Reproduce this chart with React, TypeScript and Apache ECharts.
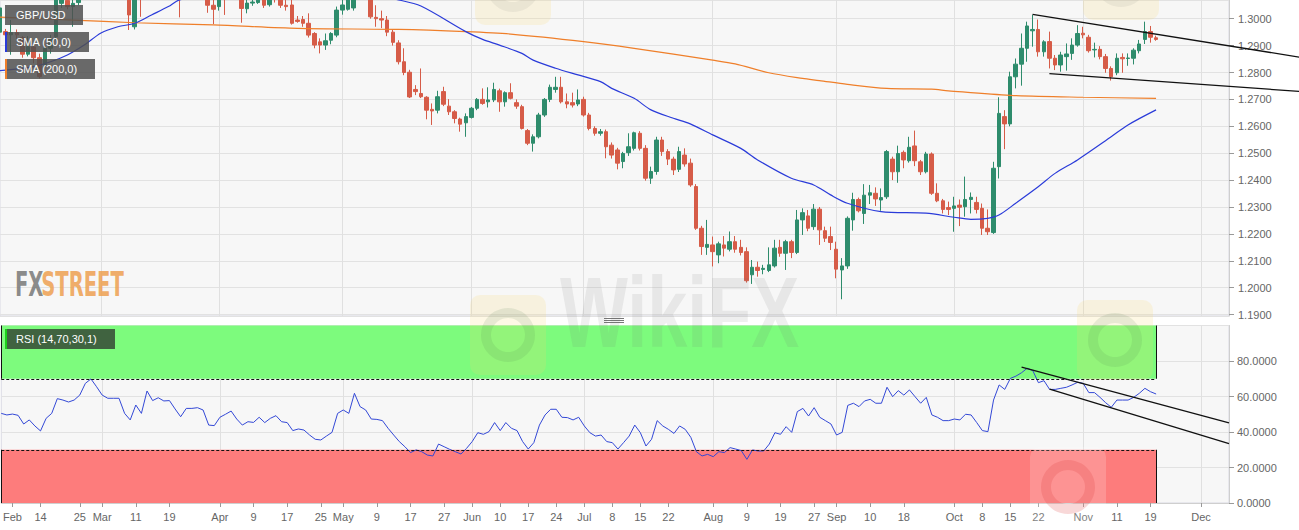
import React, { useEffect, useRef } from "react";
import * as echarts from "echarts";

// ---------- categories (trading days) ----------
const START_DATE = "2019-02-05";
const DAY_COUNT = 220;
function buildTradingDays(start: string, count: number): string[] {
  const out: string[] = [];
  const d = new Date(start + "T00:00:00Z");
  while (out.length < count) {
    const wd = d.getUTCDay();
    if (wd !== 0 && wd !== 6) out.push(d.toISOString().slice(0, 10));
    d.setUTCDate(d.getUTCDate() + 1);
  }
  return out;
}
const categories = buildTradingDays(START_DATE, DAY_COUNT);

// ---------- x tick labels ----------
const xLabelDates = ["2019-02-07","2019-02-14","2019-02-25","2019-03-01","2019-03-11","2019-03-19","2019-04-01","2019-04-09","2019-04-17","2019-04-25","2019-05-01","2019-05-09","2019-05-17","2019-05-27","2019-06-03","2019-06-10","2019-06-17","2019-06-24","2019-07-01","2019-07-08","2019-07-15","2019-07-22","2019-08-01","2019-08-09","2019-08-19","2019-08-27","2019-09-02","2019-09-10","2019-09-18","2019-10-01","2019-10-08","2019-10-15","2019-10-22","2019-11-01","2019-11-11","2019-11-19","2019-12-02"];
const xLabelTexts = ["Feb","14","25","Mar","11","19","Apr","9","17","25","May","9","17","27","Jun","10","17","24","Jul","8","15","22","Aug","9","19","27","Sep","10","18","Oct","8","15","22","Nov","11","19","Dec"];
const monthGridDates = ["2019-03-01","2019-04-01","2019-05-01","2019-06-03","2019-07-01","2019-08-01","2019-09-02","2019-10-01","2019-11-01","2019-12-02"];

// ---------- GBP/USD daily OHLC ----------
const opens = [
1.2950,1.2952,1.2940,1.2948,1.2930,1.2868,1.2895,1.2855,1.2828,1.2890,
1.2933,1.3057,1.3068,1.3045,1.3060,1.3090,1.3245,1.3315,1.3255,1.3195,
1.3150,1.3165,1.3150,1.3080,1.2970,1.3110,1.3080,1.3325,1.3240,1.3255,
1.3265,1.3250,1.3215,1.3080,1.3205,1.3210,1.3200,1.3195,1.3050,1.3045,
1.3150,1.3100,1.3170,1.3120,1.3037,1.3058,1.3060,1.3090,1.3052,1.3090,
1.3075,1.3050,1.3051,1.2995,1.2997,1.2983,1.2945,1.2914,1.2902,1.2920,
1.2939,1.3032,1.3035,1.3040,1.3180,1.3110,1.3090,1.3005,1.3000,1.2995,
1.2950,1.2910,1.2840,1.2801,1.2737,1.2722,1.2708,1.2663,1.2660,1.2729,
1.2675,1.2654,1.2627,1.2613,1.2633,1.2667,1.2700,1.2691,1.2698,1.2732,
1.2691,1.2725,1.2688,1.2673,1.2584,1.2537,1.2561,1.2642,1.2700,1.2737,
1.2745,1.2691,1.2688,1.2683,1.2700,1.2642,1.2592,1.2574,1.2580,1.2530,
1.2512,1.2469,1.2502,1.2518,1.2574,1.2518,1.2407,1.2432,1.2549,1.2506,
1.2478,1.2440,1.2493,1.2463,1.2376,1.2221,1.2150,1.2159,1.2122,1.2159,
1.2143,1.2171,1.2150,1.2134,1.2048,1.2076,1.2068,1.2064,1.2081,1.2150,
1.2128,1.2171,1.2131,1.2252,1.2267,1.2227,1.2292,1.2212,1.2190,1.2143,
1.2066,1.2081,1.2252,1.2328,1.2276,1.2344,1.2351,1.2326,1.2338,1.2478,
1.2431,1.2503,1.2472,1.2527,1.2468,1.2431,1.2497,1.2351,1.2323,1.2298,
1.2295,1.2307,1.2301,1.2328,1.2317,1.2295,1.2221,1.2205,1.2450,1.2636,
1.2609,1.2784,1.2831,1.2890,1.2955,1.2960,1.2877,1.2915,1.2853,1.2828,
1.2859,1.2871,1.2902,1.2946,1.2931,1.2884,1.2886,1.2859,1.2815,1.2799,
1.2856,1.2852,1.2853,1.2881,1.2923,1.2952,1.2929];
const closes = [
1.3040,1.2940,1.2948,1.2940,1.2868,1.2896,1.2855,1.2785,1.2890,1.2925,
1.3072,1.3080,1.3045,1.3057,1.3090,1.3245,1.3315,1.3255,1.3195,1.3150,
1.3165,1.3150,1.3080,1.3014,1.3110,1.3080,1.3325,1.3240,1.3255,1.3265,
1.3250,1.3215,1.3080,1.3205,1.3210,1.3200,1.3195,1.3050,1.3035,1.3150,
1.3100,1.3170,1.3120,1.3038,1.3058,1.3062,1.3090,1.3050,1.3090,1.3075,
1.3050,1.3045,1.2983,1.2990,1.2983,1.2939,1.2902,1.2902,1.2918,1.2945,
1.3032,1.3051,1.3075,1.3180,1.3110,1.3090,1.3007,1.3000,1.2995,1.2950,
1.2912,1.2840,1.2800,1.2709,1.2729,1.2710,1.2660,1.2657,1.2710,1.2682,
1.2654,1.2629,1.2608,1.2636,1.2667,1.2700,1.2685,1.2698,1.2737,1.2691,
1.2725,1.2704,1.2675,1.2592,1.2537,1.2561,1.2642,1.2700,1.2745,1.2745,
1.2691,1.2683,1.2679,1.2698,1.2642,1.2592,1.2574,1.2580,1.2524,1.2493,
1.2463,1.2499,1.2524,1.2576,1.2518,1.2407,1.2432,1.2549,1.2506,1.2478,
1.2438,1.2506,1.2460,1.2382,1.2221,1.2153,1.2161,1.2134,1.2163,1.2147,
1.2171,1.2143,1.2131,1.2026,1.2076,1.2064,1.2072,1.2085,1.2147,1.2128,
1.2171,1.2131,1.2252,1.2279,1.2221,1.2292,1.2215,1.2184,1.2168,1.2069,
1.2081,1.2258,1.2328,1.2286,1.2344,1.2353,1.2330,1.2335,1.2506,1.2431,
1.2499,1.2475,1.2522,1.2472,1.2431,1.2497,1.2351,1.2323,1.2291,1.2291,
1.2304,1.2299,1.2328,1.2336,1.2291,1.2221,1.2208,1.2444,1.2648,1.2609,
1.2784,1.2831,1.2890,1.2973,1.2960,1.2877,1.2914,1.2853,1.2828,1.2865,
1.2869,1.2902,1.2945,1.2940,1.2881,1.2886,1.2859,1.2815,1.2784,1.2853,
1.2851,1.2854,1.2883,1.2906,1.2952,1.2931,1.2923];
const lows = [
1.2935,1.2928,1.2866,1.2925,1.2855,1.2860,1.2834,1.2778,1.2820,1.2870,
1.2920,1.3040,1.3035,1.2970,1.3050,1.3080,1.3240,1.3240,1.3160,1.3130,
1.3095,1.3120,1.3070,1.2958,1.2960,1.3007,1.3075,1.3200,1.3180,1.3240,
1.3210,1.3190,1.3005,1.3070,1.3160,1.3170,1.3110,1.3022,1.2980,1.3030,
1.3014,1.3090,1.3080,1.2985,1.3020,1.3048,1.3055,1.3040,1.3045,1.3060,
1.3040,1.3030,1.2978,1.2985,1.2970,1.2930,1.2890,1.2871,1.2884,1.2905,
1.2931,1.3015,1.3030,1.3030,1.3090,1.3070,1.3000,1.2970,1.2965,1.2935,
1.2900,1.2830,1.2790,1.2705,1.2716,1.2705,1.2626,1.2605,1.2648,1.2675,
1.2642,1.2611,1.2580,1.2561,1.2629,1.2660,1.2680,1.2670,1.2690,1.2654,
1.2673,1.2700,1.2665,1.2588,1.2530,1.2506,1.2555,1.2635,1.2690,1.2725,
1.2685,1.2667,1.2670,1.2675,1.2636,1.2585,1.2565,1.2565,1.2481,1.2480,
1.2440,1.2444,1.2490,1.2510,1.2510,1.2398,1.2386,1.2420,1.2490,1.2456,
1.2419,1.2430,1.2450,1.2375,1.2215,1.2122,1.2122,1.2079,1.2091,1.2116,
1.2135,1.2130,1.2120,1.2019,1.2014,1.2041,1.2050,1.2058,1.2075,1.2115,
1.2066,1.2110,1.2125,1.2196,1.2210,1.2215,1.2159,1.2170,1.2140,1.2035,
1.1957,1.2070,1.2212,1.2280,1.2237,1.2311,1.2304,1.2286,1.2330,1.2400,
1.2390,1.2444,1.2465,1.2452,1.2419,1.2425,1.2345,1.2318,1.2276,1.2270,
1.2208,1.2229,1.2264,1.2276,1.2276,1.2196,1.2196,1.2200,1.2406,1.2515,
1.2600,1.2741,1.2751,1.2840,1.2896,1.2859,1.2859,1.2815,1.2809,1.2803,
1.2807,1.2847,1.2896,1.2927,1.2874,1.2856,1.2849,1.2799,1.2770,1.2790,
1.2799,1.2825,1.2830,1.2871,1.2906,1.2911,1.2918];
const highs = [
1.3060,1.2962,1.2995,1.2960,1.2935,1.2935,1.2900,1.2870,1.2905,1.2940,
1.3090,1.3100,1.3080,1.3070,1.3110,1.3250,1.3350,1.3320,1.3275,1.3220,
1.3200,1.3180,1.3165,1.3100,1.3120,1.3290,1.3380,1.3330,1.3290,1.3300,
1.3305,1.3290,1.3230,1.3210,1.3240,1.3270,1.3280,1.3200,1.3190,1.3170,
1.3170,1.3210,1.3180,1.3130,1.3078,1.3090,1.3100,1.3100,1.3100,1.3110,
1.3090,1.3090,1.3070,1.3010,1.3010,1.3020,1.2950,1.2927,1.2945,1.2950,
1.3045,1.3070,1.3090,1.3190,1.3190,1.3160,1.3100,1.3050,1.3030,1.3010,
1.2960,1.2920,1.2890,1.2810,1.2753,1.2815,1.2712,1.2685,1.2732,1.2747,
1.2701,1.2660,1.2632,1.2648,1.2672,1.2705,1.2741,1.2745,1.2762,1.2740,
1.2730,1.2760,1.2700,1.2680,1.2590,1.2570,1.2650,1.2705,1.2755,1.2784,
1.2784,1.2722,1.2725,1.2737,1.2710,1.2650,1.2600,1.2590,1.2588,1.2540,
1.2520,1.2505,1.2574,1.2580,1.2582,1.2530,1.2450,1.2561,1.2561,1.2515,
1.2487,1.2524,1.2518,1.2480,1.2385,1.2230,1.2252,1.2190,1.2171,1.2192,
1.2209,1.2192,1.2178,1.2150,1.2103,1.2097,1.2085,1.2150,1.2178,1.2178,
1.2178,1.2178,1.2289,1.2295,1.2289,1.2311,1.2300,1.2227,1.2227,1.2171,
1.2110,1.2265,1.2353,1.2335,1.2385,1.2382,1.2373,1.2369,1.2512,1.2487,
1.2528,1.2510,1.2561,1.2584,1.2475,1.2505,1.2503,1.2388,1.2330,1.2320,
1.2338,1.2328,1.2413,1.2354,1.2338,1.2313,1.2291,1.2468,1.2708,1.2660,
1.2803,1.2852,1.2945,1.2989,1.3014,1.2997,1.2920,1.2952,1.2865,1.2877,
1.2908,1.2927,1.2976,1.2970,1.2940,1.2911,1.2898,1.2869,1.2823,1.2871,
1.2871,1.2871,1.2890,1.2921,1.2989,1.2973,1.2937];

// ---------- moving averages (sampled along the drawn curves) ----------
const sma50Idx = [0,6,9,12,15,18,21,24,27,30,32,40,50,60,66,71,75,83,86,89,93,95,99,103,107,109,113,116,120,123,127,132,135,141,145,148,151,157,165,170,173,176,178,181,185,188,192,198,201,206];
const sma50Val = [1.2807,1.2822,1.2840,1.2865,1.2902,1.2947,1.2970,1.2983,1.3014,1.3045,1.3070,1.3095,1.3115,1.3110,1.3090,1.3070,1.3047,1.2952,1.2923,1.2902,1.2871,1.2846,1.2816,1.2791,1.2766,1.2741,1.2704,1.2661,1.2630,1.2609,1.2568,1.2518,1.2475,1.2407,1.2382,1.2345,1.2314,1.2283,1.2277,1.2262,1.2254,1.2258,1.2270,1.2314,1.2375,1.2425,1.2475,1.2561,1.2605,1.2661];
const sma200Idx = [0,13,24,38,53,71,83,91,104,113,127,131,137,143,146,151,158,166,169,180,193,206];
const sma200Val = [1.3006,1.2995,1.2985,1.2977,1.2964,1.2960,1.2952,1.2943,1.2915,1.2890,1.2846,1.2832,1.2799,1.2778,1.2770,1.2756,1.2741,1.2738,1.2732,1.2715,1.2708,1.2704];

// ---------- RSI (14) ----------
const rsiValues = [
50.5,49.6,50.1,49.4,44.5,46.8,43.4,40.6,47.7,50.5,
58.8,58.0,56.9,58.0,60.8,67.4,69.9,65.5,60.8,59.0,
59.0,59.0,50.5,46.8,55.2,50.5,63.1,57.7,59.3,57.5,
57.7,53.0,48.6,53.3,53.3,53.7,52.4,43.9,43.6,48.3,
50.0,51.8,47.3,43.9,45.8,45.4,48.3,45.3,47.7,49.2,
45.8,45.3,40.8,41.7,41.1,38.3,35.9,35.5,37.7,39.8,
50.5,52.4,50.5,61.8,54.3,52.4,47.3,47.1,46.4,42.1,
38.3,34.6,31.7,28.4,29.9,28.9,27.0,26.5,33.2,31.7,
30.2,28.9,27.6,30.8,34.6,39.6,38.7,40.2,45.3,40.8,
45.3,42.1,40.8,34.6,30.4,34.0,43.9,49.6,52.8,52.8,
48.3,48.1,46.8,48.3,43.4,39.6,37.7,38.3,34.6,34.0,
30.4,34.0,37.7,43.9,39.6,32.1,35.9,46.4,43.4,41.5,
39.2,43.4,41.5,37.0,28.9,26.5,27.4,26.1,28.9,28.4,
31.2,30.4,29.5,24.6,29.9,29.3,29.3,33.2,39.6,38.7,
43.0,39.8,51.5,53.3,49.0,53.7,48.3,46.4,44.5,38.3,
39.8,55.0,56.2,54.3,57.5,58.4,56.2,56.2,65.2,59.9,
63.3,60.8,63.7,59.9,56.2,59.5,49.6,48.3,46.4,46.4,
47.3,46.8,50.0,49.6,45.3,40.8,40.2,58.0,66.5,64.0,
70.2,71.5,73.4,75.9,74.6,67.8,68.9,64.0,64.0,64.6,
65.2,66.5,68.0,67.4,62.2,62.2,59.5,56.5,53.9,58.0,
58.0,58.0,59.5,61.8,64.6,62.7,61.4];
const RSI_OVERBOUGHT = 70;
const RSI_OVERSOLD = 30;
const RSI_ZONE_END = 206;

// ---------- hand-drawn trend lines (index, value) ----------
const priceUpperIdx = [184, 232];
const priceUpperVal = [1.30164, 1.28556];
const priceLowerIdx = [187, 232];
const priceLowerVal = [1.27959, 1.27291];
const rsiUpperIdx = [182, 219];
const rsiUpperVal = [76.5, 45.1];
const rsiLowerIdx = [187, 219];
const rsiLowerVal = [64.1, 33.5];

const PRICE_MIN = 1.18948;
const PRICE_MAX = 1.306952;

const UP = "#2e8c6c";
const DOWN = "#d65c48";
const FONT = 'Arial, "Liberation Sans", sans-serif';

export default function App() {
  const ref = useRef<HTMLDivElement>(null);
  useEffect(() => {
    document.body.style.margin = "0";
    const el = ref.current!;
    const chart = echarts.init(el, undefined, { renderer: "svg" });

    const labelMap = new Map<string, string>();
    xLabelDates.forEach((d, k) => labelMap.set(d, xLabelTexts[k]));
    const monthSet = new Set(monthGridDates);

    const priceFmt = (v: number) =>
      Math.abs(v * 100 - Math.round(v * 100)) < 1e-6 ? v.toFixed(4) : "";

    const candleData = opens.map((o, i) => [o, closes[i], lows[i], highs[i]]);

    const option: any = {
      animation: false,
      backgroundColor: "#ffffff",
      textStyle: { fontFamily: FONT },
      grid: [
        { left: 0, top: 0, width: 1229, height: 316, show: true, backgroundColor: "#f7f7f7", borderColor: "#d9d9e3", borderWidth: 1, containLabel: false },
        { left: 0, top: 325.5, width: 1229, height: 177.5, show: true, backgroundColor: "#f7f7f7", borderColor: "#d9d9e3", borderWidth: 1, containLabel: false },
      ],
      xAxis: [
        {
          type: "category", gridIndex: 0, data: categories, boundaryGap: false,
          axisLine: { show: false }, axisTick: { show: false }, axisLabel: { show: false },
          splitLine: { show: true, interval: (_i: number, v: string) => monthSet.has(v), lineStyle: { color: "#e0e0e0", width: 1 } },
        },
        {
          type: "category", gridIndex: 1, data: categories, boundaryGap: false,
          axisLine: { show: true, lineStyle: { color: "#cfcfcf" } },
          axisTick: { show: true, length: 4, interval: (_i: number, v: string) => labelMap.has(v), lineStyle: { color: "#999" } },
          axisLabel: {
            show: true, interval: (_i: number, v: string) => labelMap.has(v),
            formatter: (v: string) => labelMap.get(v) ?? "",
            color: "#666", fontSize: 11, margin: 8, fontFamily: FONT,
          },
          splitLine: { show: true, interval: (_i: number, v: string) => monthSet.has(v), lineStyle: { color: "#e0e0e0", width: 1 } },
        },
      ],
      yAxis: [
        {
          type: "value", gridIndex: 0, position: "right", min: PRICE_MIN, max: PRICE_MAX,
          splitNumber: 12, minInterval: 0.01, maxInterval: 0.01,
          axisLine: { show: true, lineStyle: { color: "#cfcfcf" } },
          axisTick: { show: true, length: 5, lineStyle: { color: "#999" } },
          axisLabel: { color: "#666", fontSize: 11, margin: 9, formatter: priceFmt, showMinLabel: false, showMaxLabel: false, fontFamily: FONT },
          splitLine: { show: true, lineStyle: { color: "#e2e2e2", width: 1 } },
        },
        {
          type: "value", gridIndex: 1, position: "right", min: 0, max: 100, interval: 20,
          axisLine: { show: true, lineStyle: { color: "#cfcfcf" } },
          axisTick: { show: true, length: 5, lineStyle: { color: "#999" } },
          axisLabel: { color: "#666", fontSize: 11, margin: 8, formatter: (v: number) => v.toFixed(4), showMaxLabel: false, fontFamily: FONT },
          splitLine: { show: true, lineStyle: { color: "#e2e2e2", width: 1 } },
        },
      ],
      series: [
        {
          name: "GBP/USD", type: "candlestick", xAxisIndex: 0, yAxisIndex: 0,
          data: candleData, barWidth: 4, clip: true,
          itemStyle: { color: UP, color0: DOWN, borderColor: UP, borderColor0: DOWN, borderWidth: 1 },
        },
        {
          name: "SMA (200,0)", type: "line", xAxisIndex: 0, yAxisIndex: 0,
          data: sma200Idx.map((x, k) => [x, sma200Val[k]]), smooth: 0.3,
          symbol: "none", clip: true, lineStyle: { color: "#ef7f2a", width: 1.2 }, z: 3,
        },
        {
          name: "SMA (50,0)", type: "line", xAxisIndex: 0, yAxisIndex: 0,
          data: sma50Idx.map((x, k) => [x, sma50Val[k]]), smooth: 0.3,
          symbol: "none", clip: true, lineStyle: { color: "#2a3bd9", width: 1.2 }, z: 3,
        },
        {
          name: "RSI", type: "line", xAxisIndex: 1, yAxisIndex: 1,
          data: rsiValues, symbol: "none", lineStyle: { color: "#3348d6", width: 1 }, z: 4,
          markArea: {
            silent: true,
            data: [
              [{ xAxis: 0, yAxis: RSI_OVERBOUGHT, itemStyle: { color: "#7dfb7d" } }, { xAxis: RSI_ZONE_END, yAxis: 100 }],
              [{ xAxis: 0, yAxis: 0, itemStyle: { color: "#fd7c7c" } }, { xAxis: RSI_ZONE_END, yAxis: RSI_OVERSOLD }],
            ],
          },
          markLine: {
            silent: true, symbol: ["none", "none"], label: { show: false },
            data: [
              [{ coord: [0, RSI_OVERBOUGHT], lineStyle: { color: "#111", width: 1, type: [3, 2] } }, { coord: [RSI_ZONE_END, RSI_OVERBOUGHT] }],
              [{ coord: [0, RSI_OVERSOLD], lineStyle: { color: "#111", width: 1, type: [3, 2] } }, { coord: [RSI_ZONE_END, RSI_OVERSOLD] }],
              [{ coord: [RSI_ZONE_END, RSI_OVERBOUGHT], lineStyle: { color: "#111", width: 1, type: "solid" } }, { coord: [RSI_ZONE_END, 100] }],
              [{ coord: [RSI_ZONE_END, 0], lineStyle: { color: "#111", width: 1, type: "solid" } }, { coord: [RSI_ZONE_END, RSI_OVERSOLD] }],
              [{ coord: [0, RSI_OVERBOUGHT], lineStyle: { color: "#111", width: 1, type: "solid" } }, { coord: [0, 100] }],
              [{ coord: [0, 0], lineStyle: { color: "#111", width: 1, type: "solid" } }, { coord: [0, RSI_OVERSOLD] }],
              [{ coord: [rsiUpperIdx[0], rsiUpperVal[0]], lineStyle: { color: "#111", width: 1.3, type: "solid" } }, { coord: [rsiUpperIdx[1], rsiUpperVal[1]] }],
              [{ coord: [rsiLowerIdx[0], rsiLowerVal[0]], lineStyle: { color: "#111", width: 1.3, type: "solid" } }, { coord: [rsiLowerIdx[1], rsiLowerVal[1]] }],
            ],
          },
        },
      ],
    };
    chart.setOption(option);

    const px = (i: number, v: number) =>
      chart.convertToPixel({ xAxisIndex: 0, yAxisIndex: 0 }, [i, v]) as unknown as number[];
    const trend = (idx: number[], val: number[]) => {
      const a = px(idx[0], val[0]);
      const b = px(idx[1], val[1]);
      return {
        type: "line", z: 120, silent: true,
        shape: { x1: a[0], y1: a[1], x2: b[0], y2: b[1] },
        style: { stroke: "#111", lineWidth: 1.3 },
      };
    };

    const legendBox = (x: number, y: number, w: number, label: string, accent: string | null, fill: string) => {
      const children: any[] = [
        { type: "rect", shape: { x, y, width: w, height: 20 }, style: { fill }, z: 110 },
        { type: "text", z: 111, style: { x: x + 11, y: y + 10, text: label, fill: "#ffffff", fontSize: 11, fontFamily: FONT, verticalAlign: "middle" } },
      ];
      if (accent) children.push({ type: "rect", shape: { x, y, width: 2, height: 20 }, style: { fill: accent }, z: 112 });
      return children;
    };

    // faint WikiFX watermarks laid over the picture
    const wmLogo = (x: number, y: number, sq: string, em: string) => [
      { type: "rect", z: 130, silent: true, shape: { x, y, width: 76, height: 80, r: 10 }, style: { fill: sq } },
      { type: "ring", z: 131, silent: true, shape: { cx: x + 38, cy: y + 40, r: 27, r0: 17 }, style: { fill: em } },
    ];
    const watermarks: any[] = [
      ...wmLogo(470, 295, "rgba(250,215,110,0.18)", "rgba(70,120,70,0.12)"),
      {
        type: "group", x: 560, y: 262, scaleX: 0.72, z: 130, silent: true,
        children: [{ type: "text", z: 130, silent: true, style: { x: 0, y: 0, text: "WikiFX", fill: "rgba(110,110,110,0.11)", fontSize: 100, fontWeight: "bold", fontFamily: FONT } }],
      },
      ...wmLogo(1077, 300, "rgba(250,215,110,0.18)", "rgba(70,120,70,0.12)"),
      ...wmLogo(475, -55, "rgba(250,215,110,0.18)", "rgba(90,90,90,0.08)"),
      ...wmLogo(1083, -60, "rgba(250,215,110,0.18)", "rgba(90,90,90,0.08)"),
      ...wmLogo(1030, 447, "rgba(255,255,255,0.18)", "rgba(220,60,60,0.2)"),
    ];

    const graphics: any[] = [
      trend(priceUpperIdx, priceUpperVal),
      trend(priceLowerIdx, priceLowerVal),
      ...legendBox(5, 5, 78, "GBP/USD", null, "rgba(80,80,80,0.85)"),
      ...legendBox(5, 32, 84, "SMA (50,0)", "#2a3bd9", "rgba(80,80,80,0.85)"),
      ...legendBox(5, 59, 90, "SMA (200,0)", "#ef7f2a", "rgba(80,80,80,0.85)"),
      ...legendBox(5, 329, 110, "RSI (14,70,30,1)", "#1ccf1c", "rgba(40,40,40,0.72)"),
      {
        type: "group", x: 15, y: 268, scaleX: 0.64, z: 105, silent: true,
        children: [
          { type: "text", z: 105, style: { x: 0, y: 0, text: "FX", fill: "rgba(120,120,120,0.85)", fontSize: 34, fontWeight: "bold", fontFamily: '"DejaVu Sans Condensed", "DejaVu Sans", sans-serif' } },
          { type: "text", z: 105, style: { x: 41, y: 0, text: "STREET", fill: "rgba(238,160,80,0.85)", fontSize: 34, fontWeight: "bold", fontFamily: '"DejaVu Sans Condensed", "DejaVu Sans", sans-serif' } },
        ],
      },
      { type: "line", z: 105, silent: true, shape: { x1: 604, y1: 318.5, x2: 624, y2: 318.5 }, style: { stroke: "#777", lineWidth: 1 } },
      { type: "line", z: 105, silent: true, shape: { x1: 604, y1: 320.5, x2: 624, y2: 320.5 }, style: { stroke: "#777", lineWidth: 1 } },
      { type: "line", z: 105, silent: true, shape: { x1: 604, y1: 322.5, x2: 624, y2: 322.5 }, style: { stroke: "#777", lineWidth: 1 } },
      ...watermarks,
    ];
    chart.setOption({ graphic: graphics });

    return () => chart.dispose();
  }, []);
  return <div ref={ref} style={{ width: 1299, height: 530 }} />;
}
